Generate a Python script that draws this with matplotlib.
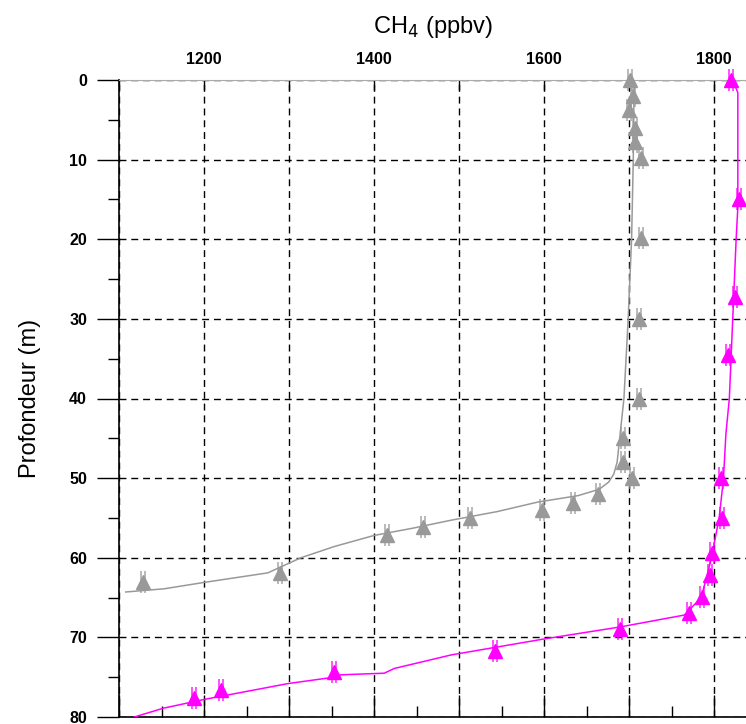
import matplotlib
matplotlib.use("Agg")
import matplotlib.pyplot as plt
from matplotlib.path import Path
from matplotlib.ticker import MultipleLocator

plt.rcParams['font.family'] = ['Liberation Sans', 'DejaVu Sans']

# measured points, grey profile
grey_ch4 = [1701, 1705, 1700, 1707, 1707, 1714, 1714, 1712, 1712, 1693, 1693, 1704,
            1663, 1634, 1598, 1513, 1458, 1415, 1289, 1128]
grey_depth = [0, 2, 3.8, 6, 7.8, 9.8, 19.8, 30, 40, 45, 48, 50,
              52, 53.1, 54, 55, 56.2, 57.1, 61.9, 63]

# fitted curve, grey profile
grey_fit_ch4 = [1706, 1705, 1703, 1699, 1694, 1689, 1686, 1682, 1676, 1665, 1640,
                1593, 1545, 1490, 1445, 1400, 1353, 1314, 1275, 1200, 1153, 1108]
grey_fit_depth = [0, 10, 20, 30, 40, 45, 48, 49.5, 50.5, 51.4, 52.2,
                  53, 54.2, 55.3, 56.3, 57.2, 58.6, 60, 61.9, 63.1, 63.9, 64.3]

# measured points, magenta profile
mag_ch4 = [1820, 1829, 1825, 1816, 1808, 1809, 1798, 1795, 1786, 1771, 1689,
           1542, 1353, 1220, 1188]
mag_depth = [0, 15, 27.3, 34.5, 50, 55, 59.4, 62.2, 64.9, 66.9, 68.9,
             71.7, 74.4, 76.6, 77.6]

# fitted curve, magenta profile
mag_fit_ch4 = [1822, 1828, 1828, 1826, 1818, 1814, 1811, 1806, 1797, 1785, 1765,
               1689, 1600, 1491, 1424, 1412, 1361, 1353, 1299, 1200, 1152, 1118]
mag_fit_depth = [0, 1.6, 16, 20, 40, 44.4, 50.2, 55, 60, 65, 67.2,
                 68.7, 70.2, 72.2, 73.9, 74.5, 74.7, 75, 75.8, 77.8, 78.9, 80]

# two short vertical bars drawn across each triangle
bars = Path([(-0.2, -1), (-0.2, 1), (0.2, -1), (0.2, 1)],
            [Path.MOVETO, Path.LINETO, Path.MOVETO, Path.LINETO])

fig = plt.figure(figsize=(7.46, 7.24), dpi=100)
ax = fig.add_axes([119/746, 1 - 717/724, 627/746, 637/724])

grey = '#999999'
mag = '#ff00ff'

ax.plot(grey_fit_ch4, grey_fit_depth, c=grey, lw=1.1, zorder=3)
ax.plot(mag_fit_ch4, mag_fit_depth, c=mag, lw=1.1, zorder=3)

for xs, ys, c in [(grey_ch4, grey_depth, grey), (mag_ch4, mag_depth, mag)]:
  ax.plot(xs, ys, ls='none', marker=bars, ms=16, mec=c, mew=1.2, alpha=0.8,
          zorder=4, clip_on=False)
  ax.plot(xs, ys, ls='none', marker='^', ms=10, mfc=c, mec=c, zorder=5,
          clip_on=False)

ax.set_xlim(1100, 1837.6)
ax.set_ylim(80, 0)

ax.xaxis.set_major_locator(MultipleLocator(100))
ax.xaxis.set_minor_locator(MultipleLocator(50))
ax.yaxis.set_major_locator(MultipleLocator(10))
ax.yaxis.set_minor_locator(MultipleLocator(5))

ax.xaxis.tick_top()
ax.tick_params(axis='x', which='major', top=True, bottom=False, direction='in',
               length=7, width=1, labeltop=True, labelbottom=False, pad=9)
ax.tick_params(axis='x', which='minor', top=False, bottom=False)
ax.tick_params(axis='y', which='major', direction='out', length=16, width=1, pad=7)
ax.tick_params(axis='y', which='minor', direction='out', length=8, width=1)

# bottom ticks pointing inward
ax2 = ax.secondary_xaxis('bottom')
ax2.xaxis.set_major_locator(MultipleLocator(100))
ax2.xaxis.set_minor_locator(MultipleLocator(50))
ax2.tick_params(axis='x', which='major', direction='in', length=16, width=1,
                labelbottom=False)
ax2.tick_params(axis='x', which='minor', direction='in', length=8, width=1)
ax2.spines['bottom'].set_linewidth(1.2)

xticks = [1200, 1400, 1600, 1800]
ax.set_xticks(xticks + [1100, 1300, 1500, 1700])
ax.set_xticklabels([str(t) for t in xticks] + [''] * 4)
for lab in ax.get_xticklabels() + ax.get_yticklabels():
  lab.set_fontweight('bold')
  lab.set_fontsize(11.5)

ax.grid(True, which='major', color='black', ls=(0, (5, 3.5)), lw=1)

ax.spines['top'].set_color('#aaaaaa')
ax.spines['top'].set_linewidth(0.8)
ax.spines['right'].set_visible(False)
ax.spines['bottom'].set_visible(False)
ax.spines['left'].set_linewidth(1.2)

ax.set_xlabel('CH$_4$ (ppbv)', fontsize=17, labelpad=14)
ax.xaxis.set_label_position('top')
ax.set_ylabel('Profondeur (m)', fontsize=17, labelpad=20)

plt.savefig('out.png', dpi=100)
